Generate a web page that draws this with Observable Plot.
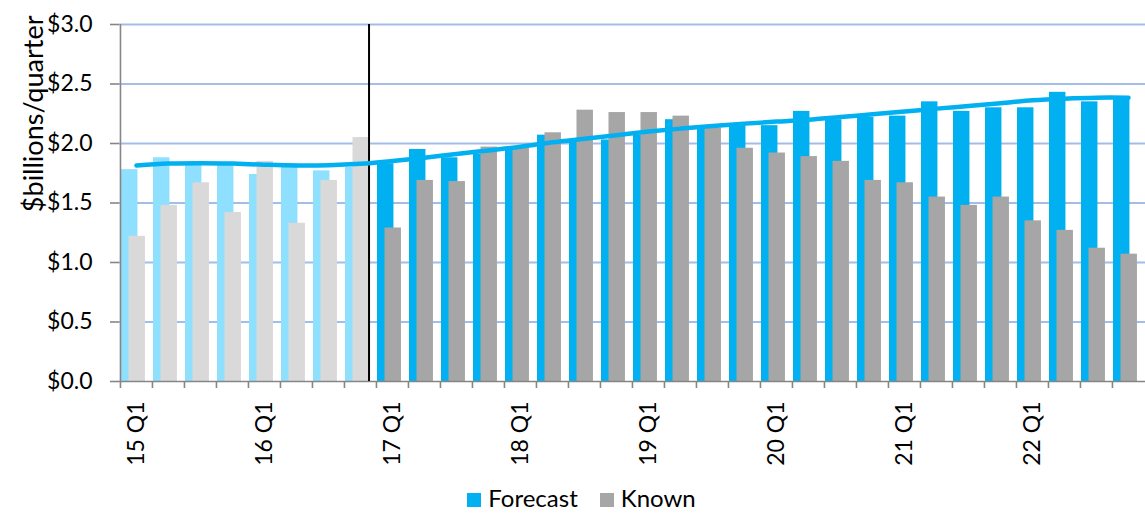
<!DOCTYPE html>
<html>
<head>
<meta charset="utf-8">
<script src="https://cdn.jsdelivr.net/npm/d3@7"></script>
<script src="https://cdn.jsdelivr.net/npm/@observablehq/plot@0.6"></script>
<style>
  html, body { margin: 0; padding: 0; background: #fff; }
  body { width: 1145px; height: 513px; overflow: hidden; font-family: Lato, "Open Sans", sans-serif; }
  #chart svg { display: block; }
  #legend { display: flex; justify-content: center; align-items: center; height: 20px; margin-top: 10px;
            font-size: 24px; line-height: 20px; color: #000; transform: translateX(9px); }
  #legend .item { display: flex; align-items: center; }
  #legend .swatch { width: 14px; height: 14px; margin-right: 7px; margin-top: 3px; }
  #legend .item + .item { margin-left: 22px; }
</style>
</head>
<body>
<div id="chart"></div>
<div id="legend"></div>
<script>
// Quarterly categories
const quarters = [
  "15 Q1","15 Q2","15 Q3","15 Q4",
  "16 Q1","16 Q2","16 Q3","16 Q4",
  "17 Q1","17 Q2","17 Q3","17 Q4",
  "18 Q1","18 Q2","18 Q3","18 Q4",
  "19 Q1","19 Q2","19 Q3","19 Q4",
  "20 Q1","20 Q2","20 Q3","20 Q4",
  "21 Q1","21 Q2","21 Q3","21 Q4",
  "22 Q1","22 Q2","22 Q3","22 Q4"
];

// $ billions per quarter
const forecast = [
  1.78, 1.88, 1.83, 1.84, 1.74, 1.83, 1.77, 1.80,
  1.83, 1.95, 1.88, 1.91, 1.96, 2.07, 2.02, 2.03,
  2.07, 2.20, 2.13, 2.15, 2.15, 2.27, 2.20, 2.22,
  2.23, 2.35, 2.27, 2.30, 2.30, 2.43, 2.35, 2.39
];
const known = [
  1.22, 1.48, 1.67, 1.42, 1.85, 1.33, 1.69, 2.05,
  1.29, 1.69, 1.68, 1.97, 1.96, 2.09, 2.28, 2.26,
  2.26, 2.23, 2.13, 1.96, 1.92, 1.89, 1.85, 1.69,
  1.67, 1.55, 1.48, 1.55, 1.35, 1.27, 1.12, 1.07
];
// smoothed forecast trend
const trend = [
  1.815, 1.831, 1.835, 1.831, 1.822, 1.816, 1.818, 1.830,
  1.853, 1.880, 1.912, 1.942, 1.972, 2.010, 2.040, 2.070,
  2.100, 2.125, 2.148, 2.167, 2.184, 2.200, 2.223, 2.245,
  2.268, 2.293, 2.315, 2.338, 2.363, 2.377, 2.385, 2.385
];

const yTicks = [0, 0.5, 1.0, 1.5, 2.0, 2.5, 3.0];
const xLabels = ["15 Q1","16 Q1","17 Q1","18 Q1","19 Q1","20 Q1","21 Q1","22 Q1"];
const historyEnd = "16 Q4";   // last quarter before the divider
const yTitle = "$billions/quarter";

const colors = {
  forecast: "#00B0F0", forecastPast: "#8FDFFF",
  known: "#A6A6A6", knownPast: "#D9D9D9",
  grid: "#A4BCE8", axis: "#868686"
};

const histIndex = quarters.indexOf(historyEnd);
const rows = quarters.map((q, i) => ({
  q, forecast: forecast[i], known: known[i], trend: trend[i], past: i <= histIndex
}));

const W = 1145, H = 478, ML = 119, MT = 24, MB = H - 381;
const bw = (W - ML) / quarters.length;

const chart = Plot.plot({
  width: W,
  height: H,
  marginLeft: ML,
  marginRight: 0,
  marginTop: MT,
  marginBottom: MB,
  style: { fontFamily: "Lato, 'Open Sans', sans-serif", fontSize: "23px", color: "#000", background: "#fff" },
  x: { type: "band", domain: quarters, padding: 0, axis: null, label: null },
  y: { domain: [0, 3], axis: null, label: null },
  color: { type: "identity" },
  marks: [
    // horizontal gridlines
    Plot.ruleY(yTicks.filter(d => d > 0), { stroke: colors.grid, strokeWidth: 1.8 }),
    // bars
    Plot.barY(rows, {
      x: "q", y: "forecast",
      fill: d => d.past ? colors.forecastPast : colors.forecast,
      insetLeft: 1, insetRight: bw - 17.5
    }),
    Plot.barY(rows, {
      x: "q", y: "known",
      fill: d => d.past ? colors.knownPast : colors.known,
      insetLeft: 8.5, insetRight: bw - 25
    }),
    // axis lines and tick marks
    Plot.ruleY([0], { stroke: colors.axis, strokeWidth: 1.6 }),
    Plot.ruleX([quarters[0]], { dx: -bw / 2, stroke: colors.axis, strokeWidth: 1.6 }),
    Plot.ruleX(quarters, { x: d => d, dx: -bw / 2, y1: 0, y2: 0, insetBottom: -7, stroke: colors.axis, strokeWidth: 1.6 }),
    Plot.axisY({ ticks: yTicks, tickSize: 9, tickPadding: 18, stroke: colors.axis, strokeWidth: 1.6,
                 tickFormat: d => "$" + d.toFixed(1), fontSize: 23, label: null }),
    Plot.axisX({ ticks: xLabels, tickSize: 0, tickPadding: 20, tickRotate: -90,
                 tickFormat: d => d, fontSize: 23, label: null }),
    // divider between history and forecast period
    Plot.ruleX([historyEnd], { dx: bw / 2 - 7.5, stroke: "#000", strokeWidth: 2 }),
    // trend line
    Plot.line(rows, {
      x: "q", y: "trend", stroke: colors.forecast, strokeWidth: 4.5,
      curve: "catmull-rom", strokeLinecap: "round", strokeLinejoin: "round"
    }),
    // y-axis title, reading bottom to top
    Plot.text([yTitle], {
      frameAnchor: "top-left", text: d => d, rotate: -90, textAnchor: "end",
      dx: 23 - ML, dy: 15 - MT, fontSize: 27, fill: "#000"
    })
  ]
});
document.getElementById("chart").appendChild(chart);

// legend
const legendItems = [
  { label: "Forecast", color: colors.forecast },
  { label: "Known", color: colors.known }
];
const legend = document.getElementById("legend");
for (const it of legendItems) {
  const el = document.createElement("div");
  el.className = "item";
  const sw = document.createElement("span");
  sw.className = "swatch";
  sw.style.background = it.color;
  const tx = document.createElement("span");
  tx.textContent = it.label;
  el.appendChild(sw);
  el.appendChild(tx);
  legend.appendChild(el);
}
</script>
</body>
</html>
